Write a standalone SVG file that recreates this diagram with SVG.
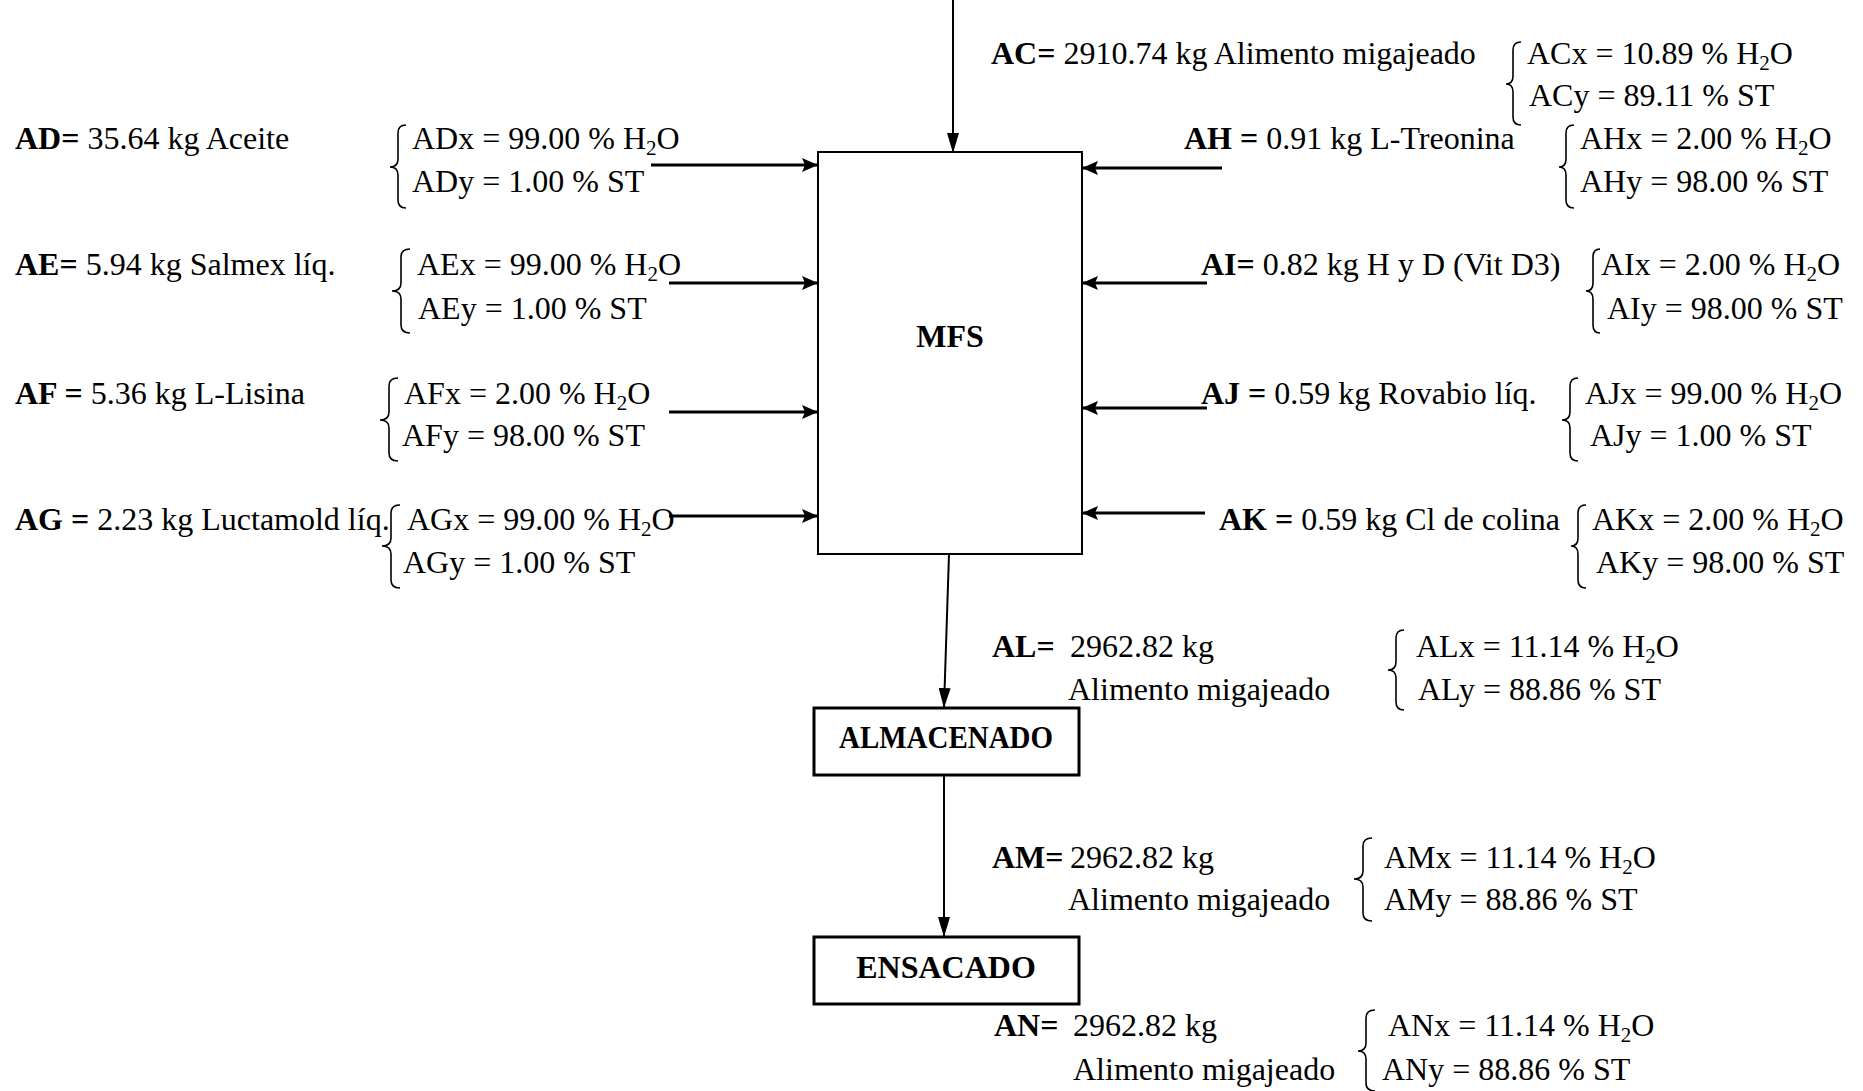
<svg xmlns="http://www.w3.org/2000/svg" width="1863" height="1091" viewBox="0 0 1863 1091">
<style>
.t{font-family:"Liberation Serif","Times New Roman",serif;font-size:32px;fill:#000}
.b{font-weight:bold}
.br{fill:none;stroke:#000;stroke-width:1.6}
.box{fill:#fff;stroke:#000}
.h{stroke:#000;stroke-width:3;fill:none}
.v{stroke:#000;stroke-width:2;fill:none}
</style>
<defs>
<marker id="ah" markerUnits="userSpaceOnUse" markerWidth="16" markerHeight="16" viewBox="0 0 16 16" refX="15" refY="8" orient="auto"><path d="M0,1 L16,8 L0,15 L3,8 Z" fill="#000"/></marker>
<marker id="av" markerUnits="userSpaceOnUse" markerWidth="20" markerHeight="12" viewBox="0 0 20 12" refX="19" refY="6" orient="auto"><path d="M0,0 L20,6 L0,12 Z" fill="#000"/></marker>
</defs>
<rect width="1863" height="1091" fill="#fff"/>

<g id="mfs"><rect class="box" x="818" y="152" width="264" height="402" stroke-width="2"/><text class="t b" x="950" y="347" text-anchor="middle">MFS</text></g>
<g id="almacenado"><rect class="box" x="814" y="708" width="265" height="67" stroke-width="3"/><text class="t b" x="946" y="748" text-anchor="middle" font-size="30" textLength="214" lengthAdjust="spacingAndGlyphs">ALMACENADO</text></g>
<g id="ensacado"><rect class="box" x="814" y="937" width="265" height="67" stroke-width="3"/><text class="t b" x="946" y="978" text-anchor="middle">ENSACADO</text></g>

<g id="connectors">
<line class="v" x1="953" y1="0" x2="953" y2="152" marker-end="url(#av)"/>
<line class="h" x1="651" y1="165" x2="817" y2="165" marker-end="url(#ah)"/>
<line class="h" x1="669" y1="283" x2="817" y2="283" marker-end="url(#ah)"/>
<line class="h" x1="669" y1="412" x2="817" y2="412" marker-end="url(#ah)"/>
<line class="h" x1="669" y1="516" x2="817" y2="516" marker-end="url(#ah)"/>
<line class="h" x1="1222" y1="168" x2="1083" y2="168" marker-end="url(#ah)"/>
<line class="h" x1="1207" y1="283" x2="1083" y2="283" marker-end="url(#ah)"/>
<line class="h" x1="1207" y1="408" x2="1083" y2="408" marker-end="url(#ah)"/>
<line class="h" x1="1205" y1="513" x2="1083" y2="513" marker-end="url(#ah)"/>
<line class="v" x1="949" y1="554" x2="944" y2="707" marker-end="url(#av)"/>
<line class="v" x1="944" y1="775" x2="944" y2="936" marker-end="url(#av)"/>
</g>

<g id="lbl-AC">
<text class="t" x="991" y="64"><tspan class="b">AC=</tspan> 2910.74 kg Alimento migajeado</text>
<path class="br" d="M1521,42 Q1513,42 1513,50 L1513,76 Q1513,84 1506,84 Q1513,84 1513,92 L1513,117 Q1513,125 1521,125"/>
<text class="t" x="1527" y="64">ACx = 10.89 % H<tspan dy="6" font-size="21">2</tspan><tspan dy="-6">O</tspan></text>
<text class="t" x="1529" y="106">ACy = 89.11 % ST</text>
</g>
<g id="lbl-AD">
<text class="t" x="15" y="149"><tspan class="b">AD=</tspan> 35.64 kg Aceite</text>
<path class="br" d="M406,125 Q398,125 398,133 L398,159 Q398,167 390,167 Q398,167 398,175 L398,200 Q398,208 406,208"/>
<text class="t" x="412" y="149">ADx = 99.00 % H<tspan dy="6" font-size="21">2</tspan><tspan dy="-6">O</tspan></text>
<text class="t" x="412" y="192">ADy = 1.00 % ST</text>
</g>
<g id="lbl-AE">
<text class="t" x="15" y="275"><tspan class="b">AE=</tspan> 5.94 kg Salmex líq.</text>
<path class="br" d="M410,249 Q401,249 401,257 L401,283 Q401,291 392,291 Q401,291 401,299 L401,325 Q401,333 410,333"/>
<text class="t" x="417" y="275">AEx = 99.00 % H<tspan dy="6" font-size="21">2</tspan><tspan dy="-6">O</tspan></text>
<text class="t" x="418" y="319">AEy = 1.00 % ST</text>
</g>
<g id="lbl-AF">
<text class="t" x="15" y="404"><tspan class="b">AF =</tspan> 5.36 kg L-Lisina</text>
<path class="br" d="M398,378 Q389,378 389,386 L389,412 Q389,420 380,420 Q389,420 389,428 L389,453 Q389,461 398,461"/>
<text class="t" x="404" y="404">AFx = 2.00 % H<tspan dy="6" font-size="21">2</tspan><tspan dy="-6">O</tspan></text>
<text class="t" x="402" y="446">AFy = 98.00 % ST</text>
</g>
<g id="lbl-AG">
<text class="t" x="15" y="530"><tspan class="b">AG =</tspan> 2.23 kg Luctamold líq.</text>
<path class="br" d="M400,505 Q391,505 391,513 L391,538 Q391,546 382,546 Q391,546 391,554 L391,580 Q391,588 400,588"/>
<text class="t" x="407" y="530">AGx = 99.00 % H<tspan dy="6" font-size="21">2</tspan><tspan dy="-6">O</tspan></text>
<text class="t" x="403" y="573">AGy = 1.00 % ST</text>
</g>
<g id="lbl-AH">
<text class="t" x="1184" y="149"><tspan class="b">AH =</tspan> 0.91 kg L-Treonina</text>
<path class="br" d="M1574,125 Q1566,125 1566,133 L1566,159 Q1566,167 1559,167 Q1566,167 1566,175 L1566,200 Q1566,208 1574,208"/>
<text class="t" x="1580" y="149">AHx = 2.00 % H<tspan dy="6" font-size="21">2</tspan><tspan dy="-6">O</tspan></text>
<text class="t" x="1580" y="192">AHy = 98.00 % ST</text>
</g>
<g id="lbl-AI">
<text class="t" x="1201" y="275"><tspan class="b">AI=</tspan> 0.82 kg H y D (Vit D3)</text>
<path class="br" d="M1600,249 Q1593,249 1593,257 L1593,283 Q1593,291 1586,291 Q1593,291 1593,299 L1593,325 Q1593,333 1600,333"/>
<text class="t" x="1601" y="275">AIx = 2.00 % H<tspan dy="6" font-size="21">2</tspan><tspan dy="-6">O</tspan></text>
<text class="t" x="1607" y="319">AIy = 98.00 % ST</text>
</g>
<g id="lbl-AJ">
<text class="t" x="1201" y="404"><tspan class="b">AJ =</tspan> 0.59 kg Rovabio líq.</text>
<path class="br" d="M1578,378 Q1570,378 1570,386 L1570,412 Q1570,420 1562,420 Q1570,420 1570,428 L1570,453 Q1570,461 1578,461"/>
<text class="t" x="1585" y="404">AJx = 99.00 % H<tspan dy="6" font-size="21">2</tspan><tspan dy="-6">O</tspan></text>
<text class="t" x="1590" y="446">AJy = 1.00 % ST</text>
</g>
<g id="lbl-AK">
<text class="t" x="1219" y="530"><tspan class="b">AK =</tspan> 0.59 kg Cl de colina</text>
<path class="br" d="M1586,505 Q1578,505 1578,513 L1578,538 Q1578,546 1571,546 Q1578,546 1578,554 L1578,580 Q1578,588 1586,588"/>
<text class="t" x="1592" y="530">AKx = 2.00 % H<tspan dy="6" font-size="21">2</tspan><tspan dy="-6">O</tspan></text>
<text class="t" x="1596" y="573">AKy = 98.00 % ST</text>
</g>
<g id="lbl-AL">
<text class="t" x="992" y="657"><tspan class="b">AL=</tspan></text>
<text class="t" x="1070" y="657">2962.82 kg</text>
<text class="t" x="1068" y="700">Alimento migajeado</text>
<path class="br" d="M1404,630 Q1396,630 1396,638 L1396,662 Q1396,670 1388,670 Q1396,670 1396,678 L1396,702 Q1396,710 1404,710"/>
<text class="t" x="1416" y="657">ALx = 11.14 % H<tspan dy="6" font-size="21">2</tspan><tspan dy="-6">O</tspan></text>
<text class="t" x="1418" y="700">ALy = 88.86 % ST</text>
</g>
<g id="lbl-AM">
<text class="t" x="992" y="868"><tspan class="b">AM=</tspan></text>
<text class="t" x="1070" y="868">2962.82 kg</text>
<text class="t" x="1068" y="910">Alimento migajeado</text>
<path class="br" d="M1372,838 Q1363,838 1363,846 L1363,871 Q1363,879 1354,879 Q1363,879 1363,887 L1363,913 Q1363,921 1372,921"/>
<text class="t" x="1384" y="868">AMx = 11.14 % H<tspan dy="6" font-size="21">2</tspan><tspan dy="-6">O</tspan></text>
<text class="t" x="1384" y="910">AMy = 88.86 % ST</text>
</g>
<g id="lbl-AN">
<text class="t" x="994" y="1036"><tspan class="b">AN=</tspan></text>
<text class="t" x="1073" y="1036">2962.82 kg</text>
<text class="t" x="1073" y="1080">Alimento migajeado</text>
<path class="br" d="M1375,1010 Q1366,1010 1366,1018 L1366,1043 Q1366,1051 1358,1051 Q1366,1051 1366,1059 L1366,1083 Q1366,1091 1375,1091"/>
<text class="t" x="1388" y="1036">ANx = 11.14 % H<tspan dy="6" font-size="21">2</tspan><tspan dy="-6">O</tspan></text>
<text class="t" x="1382" y="1080">ANy = 88.86 % ST</text>
</g>
</svg>
